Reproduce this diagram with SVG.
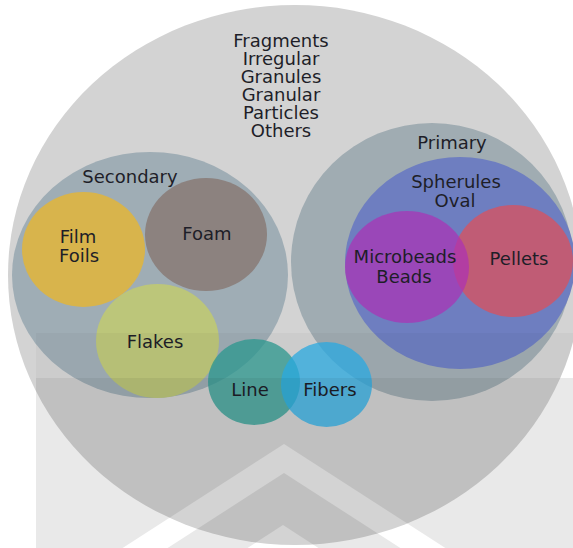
<svg xmlns="http://www.w3.org/2000/svg" width="573" height="548" viewBox="0 0 573 548">
<style>
text{font-family:"DejaVu Sans","Liberation Sans",sans-serif;font-size:18px;fill:#1e1e28;text-anchor:middle}
</style>
<defs>
<mask id="wm" maskUnits="userSpaceOnUse" x="0" y="0" width="573" height="560">
<rect x="0" y="0" width="573" height="560" fill="#fff"/>
<polygon points="104,560 284,444 464,560 419,560 284,473 149,560" fill="#000"/>
<polygon points="229,560 283,525 337,560 292,560 283,554 274,560" fill="#000"/>
</mask>
<clipPath id="bigclip"><ellipse cx="295" cy="275" rx="287" ry="270"/></clipPath>
</defs>
<rect width="573" height="548" fill="#fff"/>
<g id="all">
<ellipse cx="295" cy="275" rx="287" ry="270" fill="#d3d3d3"/>
<text x="281" y="47">Fragments</text>
<text x="281" y="65">Irregular</text>
<text x="281" y="83">Granules</text>
<text x="281" y="101">Granular</text>
<text x="281" y="119">Particles</text>
<text x="281" y="137">Others</text>
</g>
<g id="secondary">
<ellipse cx="150" cy="275" rx="138" ry="123" fill="#9fadb5"/>
<text x="130" y="183">Secondary</text>
</g>
<g id="film">
<ellipse cx="83.5" cy="249.5" rx="61.5" ry="57.5" fill="#d8b44c"/>
<text x="78" y="243">Film</text>
<text x="79" y="262">Foils</text>
</g>
<g id="foam">
<ellipse cx="206" cy="234.5" rx="61" ry="56.5" fill="#8c827f"/>
<text x="207" y="240">Foam</text>
</g>
<g id="flakes">
<ellipse cx="157.5" cy="341" rx="61.5" ry="57" fill="#bcc67a"/>
<text x="155" y="348">Flakes</text>
</g>
<g id="primary">
<ellipse cx="432" cy="262" rx="141" ry="139" fill="#a0acb2"/>
<text x="452" y="149">Primary</text>
</g>
<g id="spherules">
<ellipse cx="460" cy="263" rx="115" ry="106" fill="#6e7ec0"/>
<text x="456" y="188">Spherules</text>
<text x="455" y="207">Oval</text>
</g>
<g id="pellets">
<ellipse cx="513" cy="261" rx="60" ry="56" fill="#c05c75"/>
<text x="519" y="265">Pellets</text>
</g>
<g id="microbeads">
<ellipse cx="407" cy="267" rx="62" ry="56" fill="rgb(173,49,181)" fill-opacity="0.7"/>
<text x="405" y="263">Microbeads</text>
<text x="404" y="283">Beads</text>
</g>
<g id="line">
<ellipse cx="254" cy="382" rx="46" ry="43" fill="rgb(44,156,147)" fill-opacity="0.75"/>
</g>
<g id="fibers">
<ellipse cx="326.5" cy="384.5" rx="45.5" ry="42.5" fill="rgb(43,175,232)" fill-opacity="0.75"/>
</g>
<g id="labels-lower">
<text x="250" y="396">Line</text>
<text x="330" y="396">Fibers</text>
</g>
<g id="watermark">
<rect x="36" y="333" width="537" height="45" fill="#000" fill-opacity="0.03" clip-path="url(#bigclip)"/>
<rect x="36" y="378" width="537" height="170" fill="#000" fill-opacity="0.085" mask="url(#wm)"/>
</g>
</svg>
